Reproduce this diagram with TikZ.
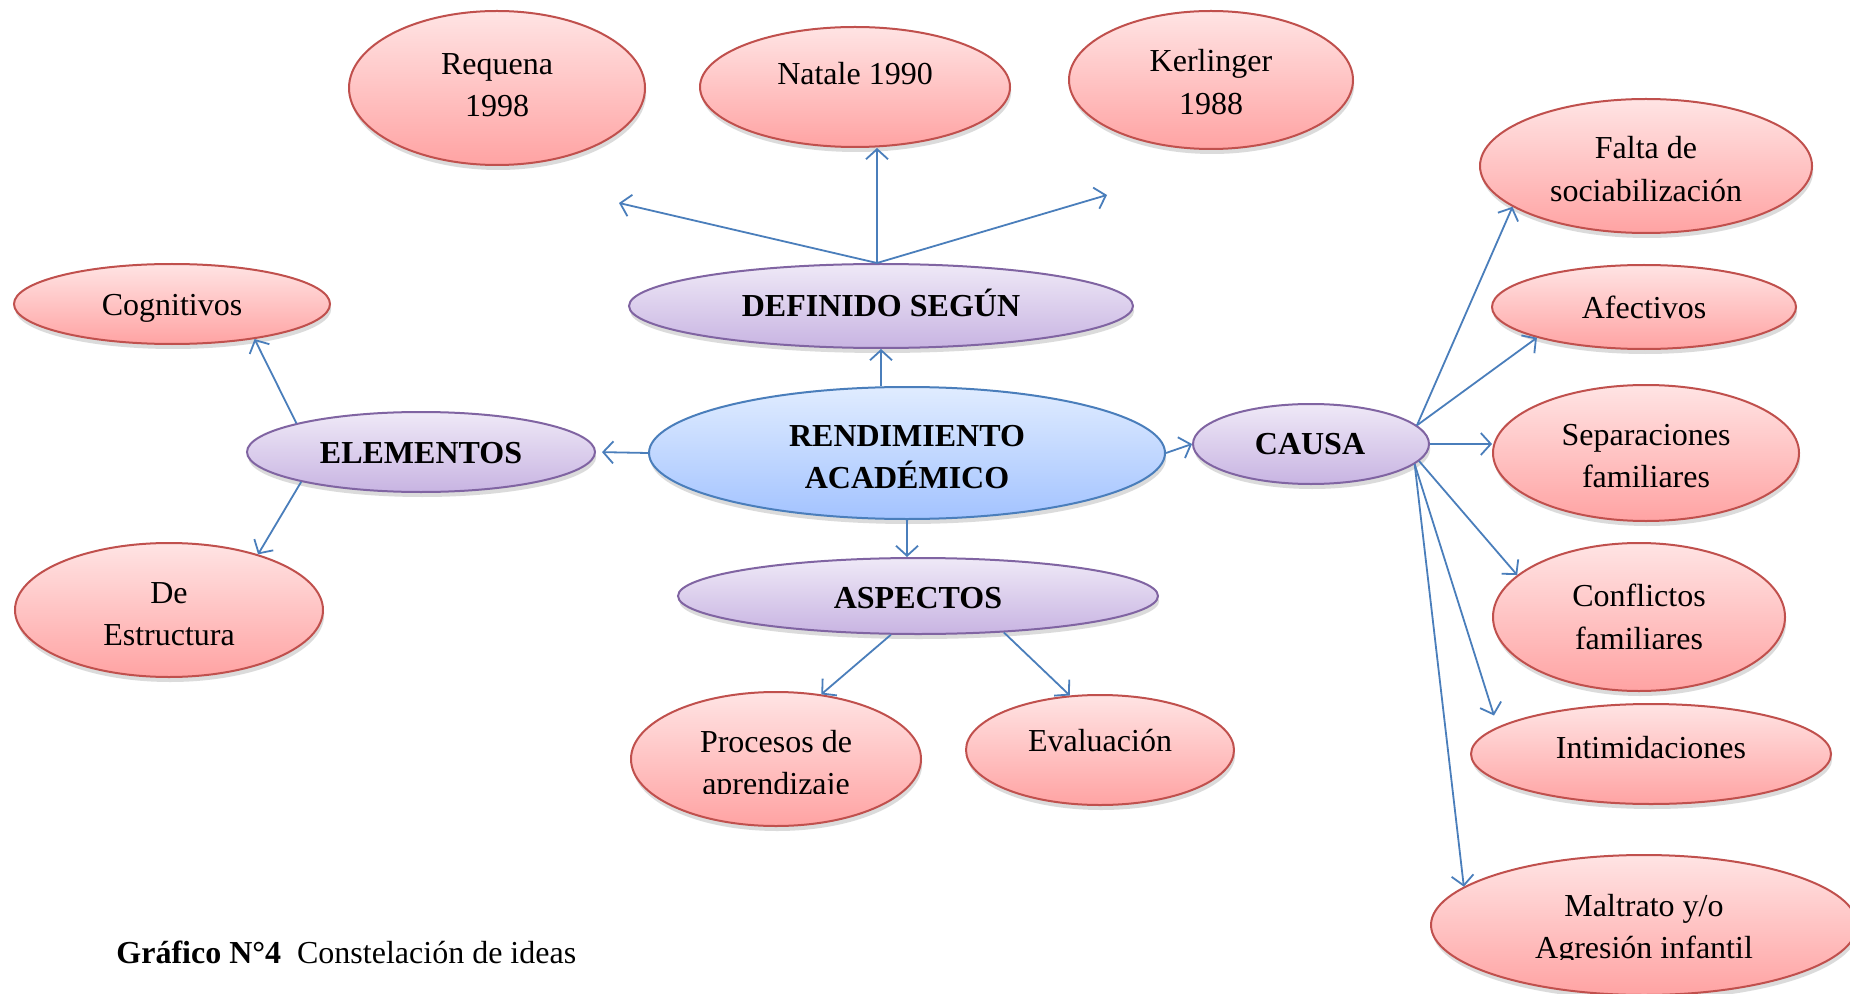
\documentclass[tikz,border=0pt]{standalone}
\usepackage{fontspec}
\setmainfont{Liberation Serif}
\usetikzlibrary{arrows.meta,shapes.geometric,shadows,calc}
\definecolor{arrc}{HTML}{4A7EBB}
\definecolor{redb}{HTML}{C0504D}
\definecolor{redt}{HTML}{FFE4E4}
\definecolor{redbot}{HTML}{FFA3A3}
\definecolor{purb}{HTML}{8064A2}
\definecolor{purt}{HTML}{EFE9F7}
\definecolor{purbot}{HTML}{C8B4E2}
\definecolor{blub}{HTML}{4A7EBB}
\definecolor{blut}{HTML}{E0ECFF}
\definecolor{blubot}{HTML}{A3C3FF}
\begin{document}
\begin{tikzpicture}[x=0.5pt,y=-0.5pt,
  ell/.style={ellipse, inner sep=0pt, line width=1pt,
    drop shadow={opacity=0.28, shadow xshift=0.6pt, shadow yshift=-2.5pt}},
  rednode/.style={ell, draw=redb, top color=redt, bottom color=redbot},
  purnode/.style={ell, draw=purb, top color=purt, bottom color=purbot},
  blunode/.style={ell, draw=blub, top color=blut, bottom color=blubot},
  txt/.style={font=\fontsize{16}{21.25}\selectfont, align=center, inner sep=0pt},
  btxt/.style={font=\fontsize{16}{21.25}\selectfont\bfseries, align=center, inner sep=0pt},
  arr/.style={draw=arrc, line width=0.9pt, -{Straight Barb[length=5pt,width=11pt]}}
]
\useasboundingbox (0,0) rectangle (1850,994);
\fill[white] (0,0) rectangle (1850,994);

% ellipses
\node[rednode, minimum width=148pt, minimum height=77pt] (req) at (497,88) {};
\node[rednode, minimum width=155pt, minimum height=60pt] (nat) at (855,87) {};
\node[rednode, minimum width=142pt, minimum height=69pt] (ker) at (1211,80) {};
\node[purnode, minimum width=252pt, minimum height=42pt] (def) at (881,306) {};
\node[rednode, minimum width=158pt, minimum height=40pt] (cog) at (172,304) {};
\node[purnode, minimum width=174pt, minimum height=40pt] (ele) at (421,452) {};
\node[rednode, minimum width=154pt, minimum height=67pt] (est) at (169,610) {};
\node[blunode, minimum width=258pt, minimum height=66pt] (ren) at (907,453) {};
\node[purnode, minimum width=118pt, minimum height=40pt] (cau) at (1311,444) {};
\node[purnode, minimum width=240pt, minimum height=38pt] (asp) at (918,596) {};
\node[rednode, minimum width=145pt, minimum height=67pt] (pro) at (776,759) {};
\node[rednode, minimum width=134pt, minimum height=55pt] (eva) at (1100,750) {};
\node[rednode, minimum width=166pt, minimum height=67pt] (fal) at (1646,166) {};
\node[rednode, minimum width=152pt, minimum height=42pt] (afe) at (1644,307) {};
\node[rednode, minimum width=153pt, minimum height=68pt] (sep) at (1646,453) {};
\node[rednode, minimum width=146pt, minimum height=74pt] (con) at (1639,617) {};
\node[rednode, minimum width=180pt, minimum height=50pt] (int) at (1651,754) {};
\node[rednode, minimum width=213pt, minimum height=70pt] (mal) at (1644,925) {};

% texts
\node[txt] (treq) at (497,85) {Requena\\1998};
\node[txt] (tnat) at (855,74) {Natale 1990};
\node[txt] (tker) at (1211,82) {Kerlinger\\1988};
\node[btxt] (tdef) at (881,303) {DEFINIDO SEGÚN};
\node[txt] (tcog) at (172,308) {Cognitivos};
\node[btxt] (tele) at (421,453) {ELEMENTOS};
\node[txt] (test) at (169,614) {De\\Estructura};
\node[btxt] (tren) at (907,457) {RENDIMIENTO\\ACADÉMICO};
\node[btxt] (tcau) at (1310,444) {CAUSA};
\node[btxt] (tasp) at (918,598) {ASPECTOS};
\begin{scope}
  \clip (600,700) rectangle (950,793);
  \node[txt] (tpro) at (776,766) {Procesos de\\aprendizaje};
\end{scope}
\node[txt] (teva) at (1100,741) {Evaluación};
\node[txt] (tfal) at (1646,169) {Falta de\\sociabilización};
\node[txt] (tafe) at (1644,307) {Afectivos};
\node[txt] (tsep) at (1646,456) {Separaciones\\familiares};
\node[txt] (tcon) at (1639,617) {Conflictos\\familiares};
\node[txt] (tint) at (1651,748) {Intimidaciones};
\begin{scope}
  \clip (1450,870) rectangle (1850,959);
  \node[txt] (tmal) at (1644,930) {Maltrato y/o\\Agresión infantil};
\end{scope}
\node[txt, anchor=west] (cap) at (116,952) {\textbf{Gráfico N°4}\ \ Constelación de ideas};

% connectors
\coordinate (creq) at (619,203);
\coordinate (cker) at (1107,195);
\draw[arr] ([xshift=-2pt]def.north) -- (creq);
\draw[arr] ([xshift=-2pt]def.north) -- ([xshift=-2pt]def.north |- nat.south);
\draw[arr] ([xshift=-2pt]def.north) -- (cker);
\draw[arr] (ren.north -| def.south) -- (def.south);
\draw[arr, shorten >=3pt] (ren.west) -- (ele.east);
\draw[arr] (ren.east) -- (cau.west);
\draw[arr] (ren.south) -- (ren.south |- asp.north);
\draw[arr] (ele.167) -- (cog.337);
\draw[arr] (ele.194) -- (est.32);
\draw[arr] (asp.235) -- (pro.55);
\draw[arr] (asp.337) -- (eva.119);
\draw[arr] (cau.10) -- (fal.197);
\draw[arr] (cau.10) -- (afe.196);
\draw[arr] (cau.east) -- (cau.east -| sep.west);
\draw[arr] (cau.351) -- (con.161);
\draw[arr, shorten >=6pt] (cau.349) -- (int.170);
\draw[arr] (cau.349) -- (mal.168);
\end{tikzpicture}
\end{document}
